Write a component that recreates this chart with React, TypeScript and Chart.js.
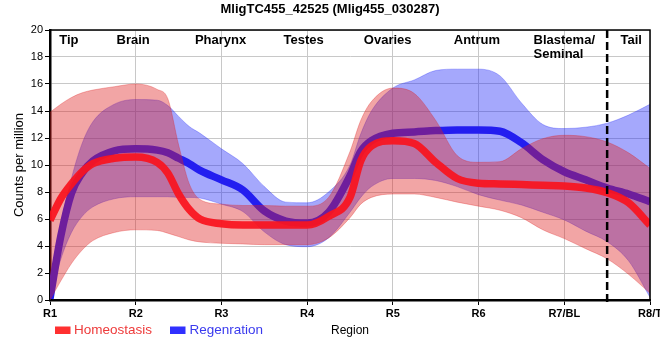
import React, { useEffect, useRef } from "react";
import { Chart, registerables } from "chart.js";
Chart.register(...registerables);

const titleText = "MligTC455_42525 (Mlig455_030287)";
const xLabels = ["R1", "R2", "R3", "R4", "R5", "R6", "R7/BL", "R8/T"];
const regionNames = ["Tip", "Brain", "Pharynx", "Testes", "Ovaries", "Antrum", "Blastema/\nSeminal", "Tail"];
const regionAnchors = [0.22, 0.97, 1.99, 2.96, 3.94, 4.98, 6.0, 6.78];
const dividerAt = 6.5;

const xPos = [0, 0.125, 0.25, 0.375, 0.5, 0.75, 1, 1.25, 1.375, 1.5, 1.625, 1.75, 2, 2.25, 2.5, 2.75, 3, 3.25, 3.5, 3.625, 3.75, 4, 4.25, 4.5, 4.75, 5, 5.25, 5.5, 5.75, 6, 6.25, 6.5, 6.75, 7];

const homMean = [5.9, 7.5, 8.6, 9.5, 10.1, 10.5, 10.6, 10.2, 9.4, 7.85, 6.7, 6.0, 5.65, 5.55, 5.55, 5.55, 5.55, 6.2, 7.6, 10.3, 11.4, 11.8, 11.6, 10.2, 9.0, 8.65, 8.6, 8.55, 8.5, 8.45, 8.3, 7.95, 7.2, 5.55];
const homHi = [13.9, 14.5, 15.0, 15.35, 15.55, 15.8, 16.0, 15.6, 14.9, 11.5, 8.6, 7.45, 7.1, 7.0, 7.0, 6.95, 6.95, 7.6, 11.0, 13.3, 14.7, 15.7, 15.3, 13.3, 10.7, 10.2, 10.25, 11.2, 11.95, 12.2, 12.1, 11.7, 10.9, 9.75];
const homLo = [0, 1.4, 2.7, 3.7, 4.4, 5.0, 5.2, 5.15, 4.95, 4.7, 4.45, 4.3, 4.2, 4.15, 4.1, 4.1, 4.1, 4.6, 6.1, 7.1, 7.6, 7.85, 7.85, 7.6, 7.25, 6.95, 6.65, 6.1, 5.2, 4.55, 3.8, 3.05, 1.9, 0.5];

const regMean = [0.1, 4.7, 7.9, 9.4, 10.3, 11.05, 11.2, 11.1, 10.9, 10.5, 10.1, 9.6, 8.9, 8.15, 6.6, 5.85, 5.7, 6.5, 9.2, 11.0, 11.8, 12.35, 12.45, 12.55, 12.6, 12.6, 12.5, 11.65, 10.4, 9.5, 8.9, 8.3, 7.85, 7.28];
const regHi = [0.3, 5.5, 9.0, 11.6, 13.2, 14.5, 14.85, 14.8, 14.4, 13.6, 12.85, 12.35, 11.2, 10.1, 8.4, 7.25, 7.2, 8.0, 10.0, 12.3, 14.0, 15.7, 16.3, 17.0, 17.1, 17.1, 16.6, 14.6, 13.0, 12.7, 12.8, 13.1, 13.7, 14.5];
const regLo = [0, 3.0, 5.0, 6.2, 6.9, 7.5, 7.65, 7.65, 7.65, 7.6, 7.6, 7.55, 7.1, 6.55, 5.05, 4.1, 3.95, 4.6, 6.5, 7.6, 8.4, 9.0, 9.0, 8.85, 8.4, 7.8, 7.4, 7.04, 6.5, 5.93, 5.1, 4.32, 2.9, 0.2];

const seriesNames = ["Homeostasis", "Regenration"];
const FONT = "'Liberation Sans', Arial, sans-serif";

const RED_LINE = "rgba(250,20,30,0.92)";
const BLUE_LINE = "rgb(35,30,240)";
const RED_BAND = "rgba(222,30,30,0.4)";
const BLUE_BAND = "rgba(30,37,248,0.4)";

const pts = (arr: number[]) => xPos.map((x, i) => ({ x, y: arr[i] }));

const decor = {
  id: "decor",
  afterDatasetsDraw(chart: any) {
    const { ctx, chartArea: a, scales } = chart;
    const x = scales.x;
    ctx.save();
    const dx = x.getPixelForValue(dividerAt);
    ctx.strokeStyle = "#000";
    ctx.lineWidth = 2.5;
    ctx.setLineDash([8, 4]);
    ctx.beginPath();
    ctx.moveTo(dx, a.top);
    ctx.lineTo(dx, a.bottom + 5);
    ctx.stroke();
    ctx.setLineDash([]);
    ctx.lineWidth = 1.5;
    ctx.beginPath();
    ctx.moveTo(a.left, a.top);
    ctx.lineTo(a.right, a.top);
    ctx.lineTo(a.right, a.bottom);
    ctx.stroke();

    ctx.fillStyle = "#000";
    ctx.font = `bold 13px ${FONT}`;
    ctx.textBaseline = "middle";
    regionNames.forEach((name, i) => {
      const px = x.getPixelForValue(regionAnchors[i]);
      const lines = name.split("\n");
      if (lines.length > 1) {
        const w = ctx.measureText(lines[0]).width;
        ctx.textAlign = "left";
        lines.forEach((ln, j) => ctx.fillText(ln, px - w / 2, a.top + 10 + j * 14));
      } else {
        ctx.textAlign = "center";
        ctx.fillText(name, px, a.top + 10);
      }
    });
    ctx.restore();
  },
  afterDraw(chart: any) {
    const { ctx, chartArea: a } = chart;
    ctx.save();
    ctx.fillStyle = "#000";
    ctx.textBaseline = "middle";
    ctx.textAlign = "center";
    ctx.font = `bold 13px ${FONT}`;
    ctx.fillText(titleText, chart.width / 2, 9);

    ctx.font = `12px ${FONT}`;
    ctx.fillText("Region", (a.left + a.right) / 2, 331);

    ctx.save();
    ctx.translate(19.5, (a.top + a.bottom) / 2);
    ctx.rotate(-Math.PI / 2);
    ctx.font = `13px ${FONT}`;
    ctx.fillText("Counts per million", 0, 0);
    ctx.restore();

    ctx.textAlign = "left";
    ctx.font = `13.5px ${FONT}`;
    ctx.fillStyle = "#ff3030";
    ctx.fillRect(55, 326.5, 15.5, 7.5);
    ctx.fillStyle = "#ee3a3a";
    ctx.fillText(seriesNames[0], 74, 330.5);
    ctx.fillStyle = "#3030ff";
    ctx.fillRect(170, 326.5, 15.5, 7.5);
    ctx.fillStyle = "#3a3aee";
    ctx.fillText(seriesNames[1], 189.5, 330.5);
    ctx.restore();
  },
};

export default function App() {
  const ref = useRef<HTMLCanvasElement>(null);
  useEffect(() => {
    document.body.style.margin = "0";
    Chart.defaults.font.family = FONT;
    const band = { pointRadius: 0, borderWidth: 1, cubicInterpolationMode: "monotone" as const };
    const chart = new Chart(ref.current!, {
      type: "line",
      data: {
        datasets: [
          { label: seriesNames[0], data: pts(homMean), borderColor: RED_LINE, borderWidth: 7.5, pointRadius: 0, fill: false, cubicInterpolationMode: "monotone", order: 0 },
          { label: "hi0", data: pts(homHi), ...band, borderColor: "rgba(222,30,30,0.3)", backgroundColor: RED_BAND, fill: "+1", order: 1 },
          { label: "lo0", data: pts(homLo), ...band, borderColor: "rgba(222,30,30,0.3)", fill: false, order: 1 },
          { label: seriesNames[1], data: pts(regMean), borderColor: BLUE_LINE, borderWidth: 7.5, pointRadius: 0, fill: false, cubicInterpolationMode: "monotone", order: 2 },
          { label: "hi1", data: pts(regHi), ...band, borderColor: "rgba(30,37,248,0.3)", backgroundColor: BLUE_BAND, fill: "+1", order: 3 },
          { label: "lo1", data: pts(regLo), ...band, borderColor: "rgba(30,37,248,0.3)", fill: false, order: 3 },
        ] as any,
      },
      options: {
        animation: false,
        responsive: false,
        devicePixelRatio: 1,
        layout: { padding: { top: 30, right: 10, left: 0, bottom: 0 } },
        plugins: { legend: { display: false }, title: { display: false }, tooltip: { enabled: false } },
        scales: {
          x: {
            type: "linear",
            min: 0,
            max: 7,
            ticks: {
              stepSize: 1,
              autoSkip: false,
              maxRotation: 0,
              color: "#000",
              font: { size: 11, weight: "bold" },
              padding: 2,
              callback: (v: any) => xLabels[v] ?? "",
            },
            grid: { color: "#c8c8c8", tickColor: "#000", tickLength: 5, lineWidth: 1 },
            border: { color: "#000", width: 2.5 },
            afterFit: (s: any) => {
              s.height = 60;
              s.paddingLeft = 0;
              s.paddingRight = 0;
            },
          },
          y: {
            min: 0,
            max: 20,
            ticks: { stepSize: 2, color: "#000", font: { size: 11 }, padding: 2 },
            grid: { color: "#c8c8c8", tickColor: "#000", tickLength: 5, lineWidth: 1 },
            border: { color: "#000", width: 2.5 },
            afterFit: (s: any) => {
              s.width = 50;
              s.paddingTop = 0;
              s.paddingBottom = 0;
            },
          },
        } as any,
      },
      plugins: [decor],
    });
    return () => chart.destroy();
  }, []);
  return (
    <div style={{ width: 660, height: 360 }}>
      <canvas ref={ref} width={660} height={360} style={{ display: "block" }} />
    </div>
  );
}
